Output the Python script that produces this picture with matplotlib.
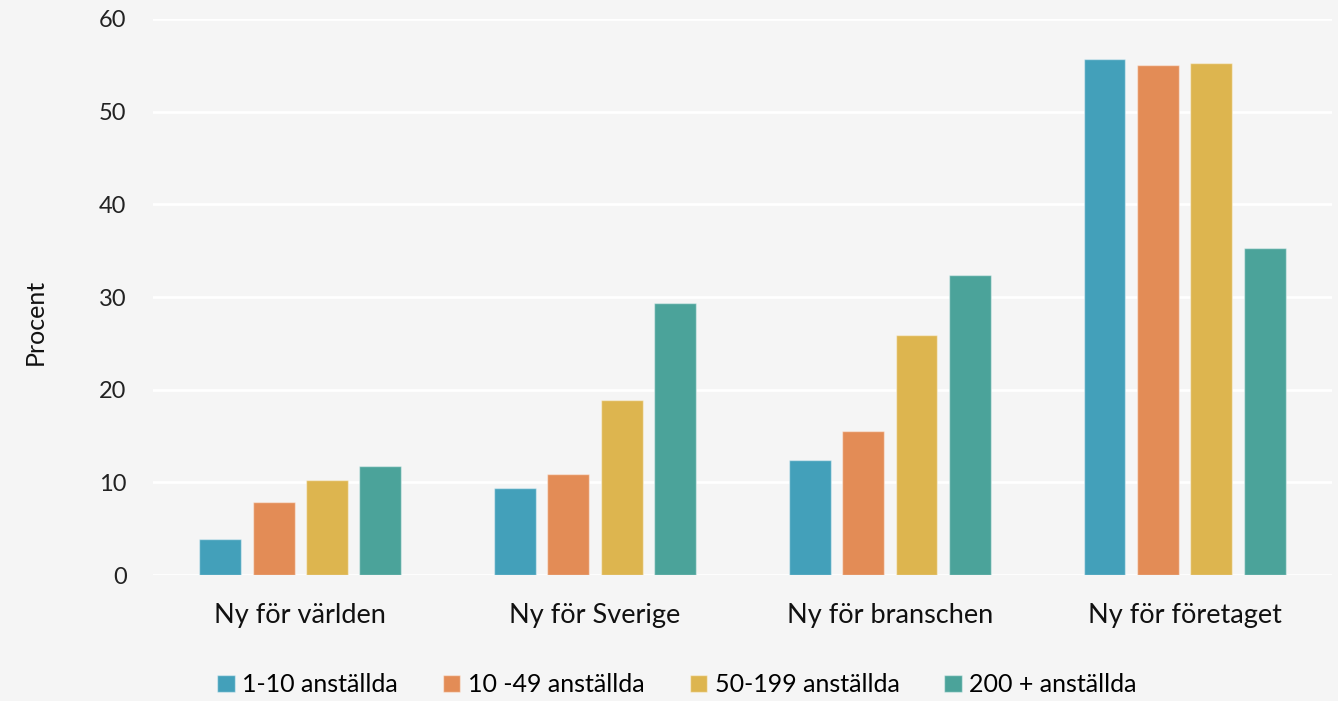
import matplotlib
matplotlib.use("Agg")
import matplotlib.pyplot as plt
import numpy as np

categories = ["Ny för världen", "Ny för Sverige", "Ny för branschen", "Ny för företaget"]
series_names = ["1-10 anställda", "10 -49 anställda", "50-199 anställda", "200 + anställda"]
s_1_10 = [3.9, 9.4, 12.4, 55.7]
s_10_49 = [7.9, 10.9, 15.5, 55.0]
s_50_199 = [10.3, 18.9, 25.9, 55.2]
s_200 = [11.8, 29.4, 32.4, 35.3]
series = [s_1_10, s_10_49, s_50_199, s_200]
colors = ["#43A0BA", "#E38C56", "#DDB54F", "#4BA39A"]
yticks = [0, 10, 20, 30, 40, 50, 60]

plt.rcParams['font.family'] = ['Lato', 'DejaVu Sans']
bg = "#F5F5F5"
fig = plt.figure(figsize=(13.38, 7.01), dpi=100, facecolor=bg)
ax = fig.add_axes([0.1143, 0.1797, 0.8812, 0.7932], facecolor=bg)

x = np.arange(len(categories))
slot = 0.181
width = 0.142
for i, (vals, name, c) in enumerate(zip(series, series_names, colors)):
    ax.bar(x + (i - 1.5) * slot, vals, width, color=c, label=name,
           edgecolor=(1, 1, 1, 0.45), linewidth=1.0, zorder=3)

ax.set_xlim(-0.5, 3.5)
ax.set_ylim(0, 60)
ax.set_yticks(yticks)
ax.set_yticklabels([str(t) for t in yticks], fontsize=17, color="#222222")
ax.set_xticks(x)
ax.set_xticklabels(categories, fontsize=19.5, color="#111111")
ax.tick_params(axis='y', length=0, pad=19)
ax.tick_params(axis='x', length=0, pad=20)
ax.grid(axis='y', color='white', linewidth=2, zorder=0)
for s in ax.spines.values():
    s.set_visible(False)
ax.set_ylabel("Procent", fontsize=18, color="#111111", va='center')
ax.yaxis.set_label_coords(-0.100, 0.455)

leg = fig.legend(loc='lower center', bbox_to_anchor=(0.506, -0.025), ncol=4,
                 frameon=False, fontsize=18, handlelength=0.7, handleheight=0.7,
                 handletextpad=0.3, columnspacing=1.8)

fig.savefig("out.png", dpi=100, facecolor=bg)
